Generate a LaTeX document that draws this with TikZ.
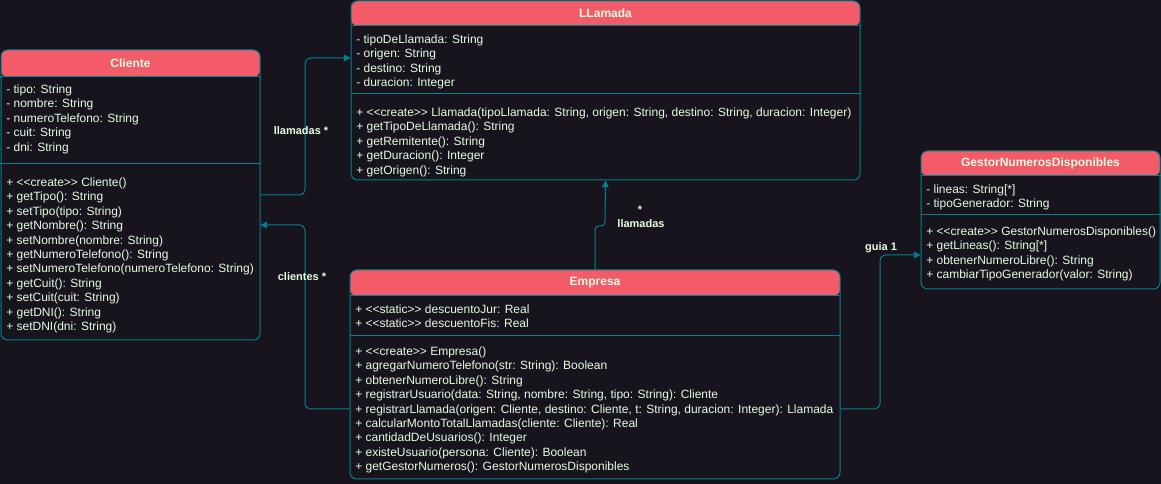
\documentclass[tikz,border=0pt]{standalone}
\usepackage{fontspec}
\setmainfont{Liberation Sans}
\usetikzlibrary{arrows.meta}
\definecolor{bg}{HTML}{18141D}
\definecolor{hdr}{HTML}{F45B69}
\definecolor{edge}{HTML}{028090}
\definecolor{txt}{HTML}{E4FDE1}
\newcommand{\umlst}[1]{<\kern0pt<#1>\kern0pt>}
\begin{document}
\begin{tikzpicture}[x=0.75pt, y=-0.75pt,
  classbox/.style={draw=edge, line width=0.75pt, rounded corners=5pt, inner sep=0pt},
  hdrfill/.style={path picture={\fill[hdr] (path picture bounding box.north west) rectangle ([yshift=-#1]path picture bounding box.north east);}},
  title/.style={text=txt, font=\fontsize{9}{10.8}\selectfont\bfseries},
  members/.style={text=txt, font=\fontsize{9}{10.8}\selectfont, align=left, anchor=north west, inner sep=0pt},
  sep/.style={draw=edge, line width=0.75pt},
  conn/.style={draw=edge, line width=0.75pt, rounded corners=4pt, -{Triangle[length=5pt,width=5pt]}},
  lbl/.style={text=txt, font=\fontsize{8.25}{10}\selectfont\bfseries}]
\fill[bg] (0,0) rectangle (1161,484);

% Cliente
\node[classbox, hdrfill=20.25pt, minimum width=194.25pt, minimum height=217.5pt] (cliente) at (130.5,195) {};
\node[title] (cliente-t) at (cliente.north |- 0,63.5) {Cliente};
\draw[sep] (cliente.west |- 0,77) -- (cliente.east |- 0,77);
\draw[sep] (cliente.west |- 0,164) -- (cliente.east |- 0,164);
\node[members] (cliente-a) at (6,84.5) {- tipo: String\\ - nombre: String\\ - numeroTelefono: String\\ - cuit: String\\ - dni: String};
\node[members] (cliente-m) at (6,177.5) {+ \umlst{create} Cliente()\\ + getTipo(): String\\ + setTipo(tipo: String)\\ + getNombre(): String\\ + setNombre(nombre: String)\\ + getNumeroTelefono(): String\\ + setNumeroTelefono(numeroTelefono: String)\\ + getCuit(): String\\ + setCuit(cuit: String)\\ + getDNI(): String\\ + setDNI(dni: String)};

% LLamada
\node[classbox, hdrfill=18.75pt, minimum width=381.75pt, minimum height=134.25pt] (llamada) at (605.5,90.5) {};
\node[title] (llamada-t) at (llamada.north |- 0,13.5) {LLamada};
\draw[sep] (llamada.west |- 0,26) -- (llamada.east |- 0,26);
\draw[sep] (llamada.west |- 0,94) -- (llamada.east |- 0,94);
\node[members] (llamada-a) at (356,34.5) {- tipoDeLlamada: String\\ - origen: String\\ - destino: String\\ - duracion: Integer};
\node[members] (llamada-m) at (356,107.5) {+ \umlst{create} Llamada(tipoLlamada: String, origen: String, destino: String, duracion: Integer)\\ + getTipoDeLlamada(): String\\ + getRemitente(): String\\ + getDuracion(): Integer\\ + getOrigen(): String};

% GestorNumerosDisponibles
\node[classbox, hdrfill=18.75pt, minimum width=179.25pt, minimum height=103.5pt] (gestor) at (1040.5,220) {};
\node[title] (gestor-t) at (gestor.north |- 0,163.5) {GestorNumerosDisponibles};
\draw[sep] (gestor.west |- 0,176) -- (gestor.east |- 0,176);
\draw[sep] (gestor.west |- 0,215) -- (gestor.east |- 0,215);
\node[members] (gestor-a) at (926,184.5) {- lineas: String[*]\\ - tipoGenerador: String};
\node[members] (gestor-m) at (926,226.5) {+ \umlst{create} GestorNumerosDisponibles()\\ + getLineas(): String[*]\\ + obtenerNumeroLibre(): String\\ + cambiarTipoGenerador(valor: String)};

% Empresa
\node[classbox, hdrfill=19.5pt, minimum width=367.5pt, minimum height=156.75pt] (empresa) at (595,374.5) {};
\node[title] (empresa-t) at (empresa.north |- 0,283) {Empresa};
\draw[sep] (empresa.west |- 0,296) -- (empresa.east |- 0,296);
\draw[sep] (empresa.west |- 0,336) -- (empresa.east |- 0,336);
\node[members] (empresa-a) at (355,304.5) {+ \umlst{static} descuentoJur: Real\\ + \umlst{static} descuentoFis: Real};
\node[members] (empresa-m) at (355,346.5) {+ \umlst{create} Empresa()\\ + agregarNumeroTelefono(str: String): Boolean\\ + obtenerNumeroLibre(): String\\ + registrarUsuario(data: String, nombre: String, tipo: String): Cliente\\ + registrarLlamada(origen: Cliente, destino: Cliente, t: String, duracion: Integer): Llamada\\ + calcularMontoTotalLlamadas(cliente: Cliente): Real\\ + cantidadDeUsuarios(): Integer\\ + existeUsuario(persona: Cliente): Boolean\\ + getGestorNumeros(): GestorNumerosDisponibles};

% associations
\draw[conn] (cliente.east) -- (305,195) -- (305,58) -- (llamada.west |- 0,58);
\node[lbl] (lbl-llamadas) at (301,131) {llamadas *};
\draw[conn] (empresa.west |- 0,409) -- (305,409) -- (305,225) -- (cliente.east |- 0,225);
\node[lbl] (lbl-clientes) at (302,277) {clientes *};
\draw[conn, rounded corners=3pt] (empresa.north) -- (595,226) -- (605,226) -- (llamada.south);
\node[lbl] (lbl-mult) at (640,210) {*};
\node[lbl] (lbl-llamadas2) at (641,224) {llamadas};
\draw[conn] (empresa.east |- 0,409) -- (880,409) -- (880,255) -- (gestor.west |- 0,255);
\node[lbl] (lbl-guia) at (881,248) {guia 1};
\end{tikzpicture}
\end{document}
